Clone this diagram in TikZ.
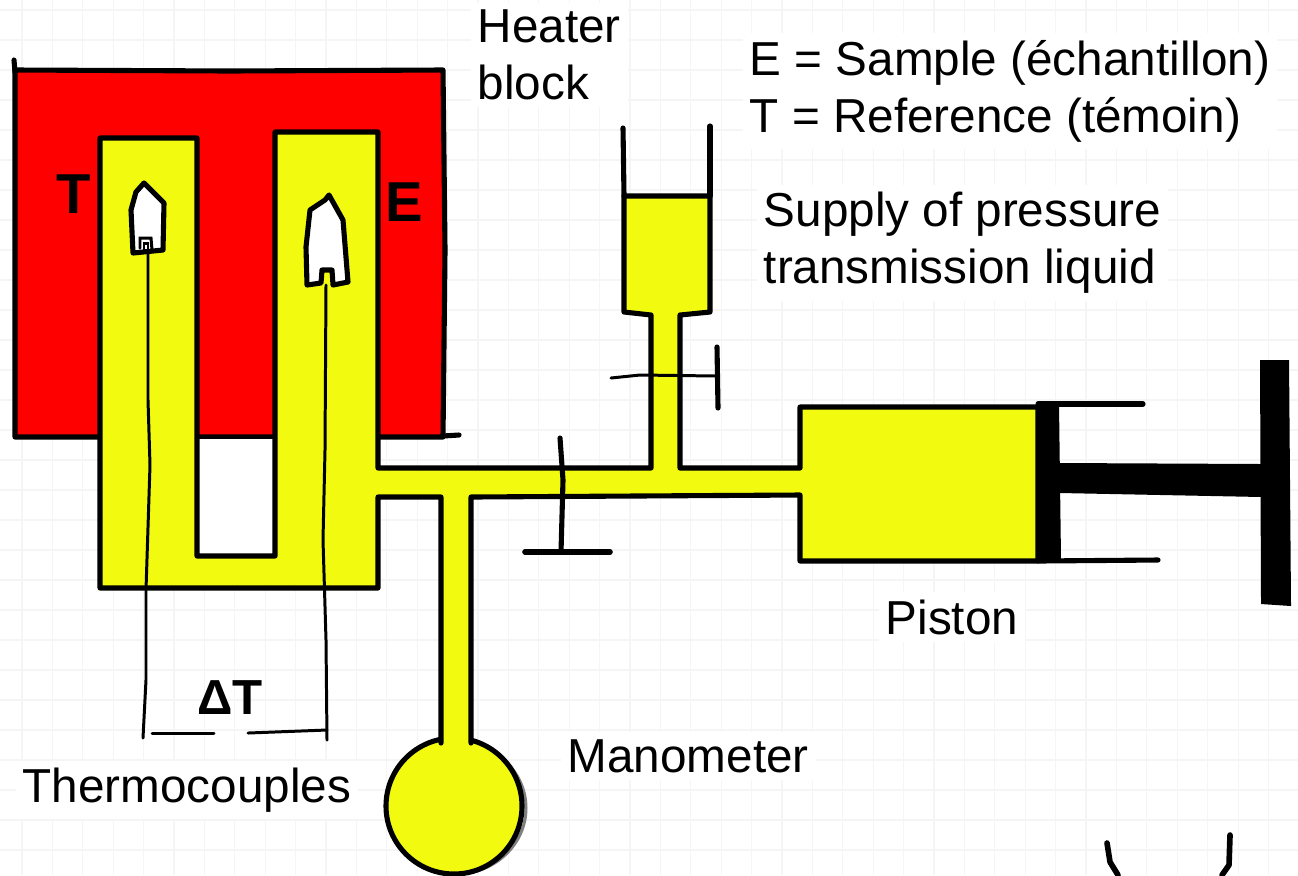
\documentclass[tikz,border=0pt]{standalone}
\usepackage{fontspec}
\setmainfont{Liberation Sans}
\usetikzlibrary{positioning}
\definecolor{heaterred}{RGB}{255,0,0}
\definecolor{liquidyellow}{RGB}{241,250,15}
\definecolor{gridgray}{RGB}{245,245,245}
\tikzset{
  ink/.style={draw=black, line width=1.45pt, line join=round, line cap=round},
  wire/.style={draw=black, line width=0.85pt, line cap=round},
  label/.style={font=\fontsize{13.55}{16.2}\selectfont, align=left, fill=white, inner sep=2pt},
  handmark/.style={font=\fontsize{16}{16}\selectfont\bfseries, inner sep=0pt},
}
\begin{document}
\begin{tikzpicture}[x=0.01cm, y=-0.01cm]
  \useasboundingbox (0,0) rectangle (1298,875);

  % Squared paper
  \foreach \gx in {0,...,42} {\draw[gridgray, line width=0.3pt] (22+30.4*\gx,0) -- (22+30.4*\gx,875);}
  \foreach \gy in {0,...,29} {\draw[gridgray, line width=0.3pt] (0,10+30*\gy) -- (1298,10+30*\gy);}

  % Heater block
  \draw[ink, fill=heaterred] (15,70) -- (230,71) -- (443,70) -- (445,250) -- (443,437) -- (15,437) -- cycle;
  \draw[ink] (14,60) -- (15,72);
  \draw[ink] (443,436) -- (459,435);
  \fill[white] (197,437) rectangle (275,556);
  \draw[wire] (197,437) -- (275,437);

  % Manometer
  \draw[wire, gray] (456,808) ellipse (70 and 66);
  \draw[ink, fill=liquidyellow] (454,806) circle (68);

  % Liquid circuit
  \draw[ink, fill=liquidyellow] (471,743) -- (471,497) -- (800,495) -- (800,561) -- (1038,561)
    -- (1038,407) -- (800,407) -- (800,468) -- (680,468) -- (680,315) -- (710,312)
    -- (710,196) -- (624,196) -- (624,312) -- (651,315) -- (651,468) -- (378,468) -- (378,132)
    -- (275,132) -- (275,556) -- (197,556) -- (197,138) -- (100,138) -- (100,588) -- (378,588)
    -- (378,497) -- (441,497) -- (441,743);
  \fill[liquidyellow] (444,730) rectangle (468,747);

  % Supply walls
  \draw[ink] (623,128) -- (624,196);
  \draw[ink] (710,126) -- (710,196);

  % Valves
  \draw[wire] (611,378) -- (640,375) -- (716,376);
  \draw[ink] (717,347) -- (718,408);
  \draw[ink] (560,438) -- (563,480) -- (561,552);
  \draw[ink, line width=1.6pt] (525,552) -- (610,552);

  % Piston
  \draw[ink] (1038,404) -- (1143,404);
  \draw[ink] (1038,561) -- (1158,560);
  \fill[black] (1038,405) -- (1059,405) -- (1061,560) -- (1038,561) -- cycle;
  \fill[black] (1060,463) -- (1262,464) -- (1262,497) -- (1060,493) -- cycle;
  \fill[black] (1260,360) -- (1289,360) -- (1291,606) -- (1261,604) -- cycle;

  % Sample cells
  \draw[ink, fill=white] (144,183) -- (164,203) -- (163,250) -- (133,253) -- (131,210) -- (136,192) -- cycle;
  \draw[wire] (140,248) -- (140,238) -- (151,238) -- (152,250);
  \draw[wire] (144,250) -- (144,243) -- (148,243) -- (148,252);
  \draw[ink, fill=white] (329,195) -- (343,220) -- (348,282) -- (333,285) -- (332,270) -- (322,270)
    -- (321,283) -- (307,285) -- (306,247) -- (310,210) -- (325,200) -- cycle;

  % Thermocouple wires
  \draw[wire] (148,253) -- (148,400) -- (150,465) -- (146,590) -- (146,680) -- (143,738);
  \draw[wire] (326,285) -- (325,450) -- (323,540) -- (326,640) -- (327,740);
  \draw[wire] (152,733) -- (214,733);
  \draw[wire] (248,733) -- (327,730);

  % Marks at the lower edge
  \draw[ink, line width=1.6pt] (1107,843) -- (1110,862) -- (1118,875);
  \draw[ink, line width=1.6pt] (1230,835) -- (1229,865) -- (1222,875);

  % Hand lettering
  \node[handmark] (reflabel) at (74,194) {T};
  \node[handmark] (samplelabel) at (404,202) {E};
  \node[handmark, font=\fontsize{14}{14}\selectfont\bfseries] (deltalabel) at (230,698) {ΔT};

  % Labels
  \node[label, anchor=west] (heaterlabel) at (470,55) {Heater\\block};
  \node[label, anchor=west] (keylabel) at (742,91) {E = Sample (échantillon)\\T = Reference (témoin)};
  \node[label, anchor=west] (supplylabel) at (756,243) {Supply of pressure\\transmission liquid};
  \node[label, anchor=west] (manolabel) at (560,756) {Manometer};
  \node[label, anchor=west] (pistonlabel) at (878,617) {Piston};
  \node[label, anchor=west] (couplelabel) at (15,790) {Thermocouples};
\end{tikzpicture}
\end{document}
